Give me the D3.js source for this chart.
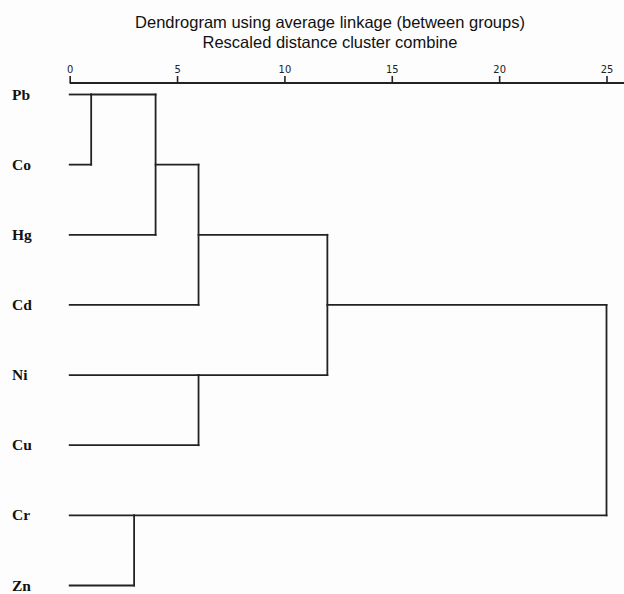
<!DOCTYPE html>
<html>
<head>
<meta charset="utf-8">
<script src="https://cdn.jsdelivr.net/npm/d3@7"></script>
<style>
  html, body { margin: 0; padding: 0; background: #fdfdfd; }
  svg { display: block; }
</style>
</head>
<body>
<svg id="chart" width="624" height="594"></svg>
<script>
// ---- data ----
const leaves = ["Pb", "Co", "Hg", "Cd", "Ni", "Cu", "Cr", "Zn"];
// merges: [left node, right node, rescaled distance]; nodes 0..7 are leaves, 8.. are merges in order
const mergeLeft  = [0, 8, 9, 4, 10, 6, 12];
const mergeRight = [1, 2, 3, 5, 11, 7, 13];
const mergeDist  = [1, 4, 6, 6, 12, 3, 25];
const tickValues = [0, 5, 10, 15, 20, 25];
const titleLines = ["Dendrogram using average linkage (between groups)", "Rescaled distance cluster combine"];

// ---- layout ----
const svg = d3.select("#chart");
const W = 624, H = 594;
svg.append("rect").attr("width", W).attr("height", H).attr("fill", "#fdfdfd");

const x = d3.scaleLinear().domain([0, 25]).range([69.7, 606.5]);
const y = d3.scalePoint().domain(d3.range(leaves.length)).range([94.5, 585.5]);

// titles
svg.selectAll("text.title").data(titleLines).join("text")
  .attr("class", "title")
  .attr("x", 330)
  .attr("y", (d, i) => 28 + i * 20)
  .attr("text-anchor", "middle")
  .attr("font-family", "Liberation Sans, Arial, sans-serif")
  .attr("font-size", 16.5)
  .attr("fill", "#111")
  .text(d => d);

// axis
const axisY = 83;
const axis = d3.axisTop(x).tickValues(tickValues).tickSize(7).tickPadding(3).tickFormat(d3.format("d"));
const ag = svg.append("g").attr("transform", `translate(0,${axisY})`).call(axis);
ag.select(".domain").remove();
ag.append("line").attr("x1", x(0)).attr("x2", W).attr("y1", 0).attr("y2", 0)
  .attr("stroke", "#222").attr("stroke-width", 1.8);
ag.selectAll(".tick line").attr("stroke", "#222").attr("stroke-width", 1.6);
ag.selectAll(".tick text")
  .attr("font-family", "DejaVu Sans Condensed, DejaVu Sans, sans-serif")
  .attr("font-size", 11)
  .attr("fill", "#222");

// leaf labels
svg.selectAll("text.leaf").data(leaves).join("text")
  .attr("class", "leaf")
  .attr("x", 12)
  .attr("y", (d, i) => y(i) + 5)
  .attr("font-family", "Liberation Serif, Times New Roman, serif")
  .attr("font-weight", "bold")
  .attr("font-size", 15.5)
  .attr("fill", "#111")
  .text(d => d);

// compute dendrogram geometry (SPSS style: merged row = floor of mean row index)
const nodeRow = leaves.map((d, i) => i);
const nodeX = leaves.map(() => 0);
const segs = [];
mergeDist.forEach((dist, k) => {
  const a = mergeLeft[k], b = mergeRight[k];
  [a, b].forEach(c => segs.push({x1: x(nodeX[c]), y1: y(nodeRow[c]), x2: x(dist), y2: y(nodeRow[c])}));
  segs.push({x1: x(dist), y1: y(nodeRow[a]), x2: x(dist), y2: y(nodeRow[b])});
  nodeRow.push(Math.floor((nodeRow[a] + nodeRow[b]) / 2));
  nodeX.push(dist);
});

svg.append("g").selectAll("line").data(segs).join("line")
  .attr("x1", d => d.x1).attr("y1", d => d.y1)
  .attr("x2", d => d.x2).attr("y2", d => d.y2)
  .attr("stroke", "#222")
  .attr("stroke-width", 1.8)
  .attr("stroke-linecap", "square");
</script>
</body>
</html>
